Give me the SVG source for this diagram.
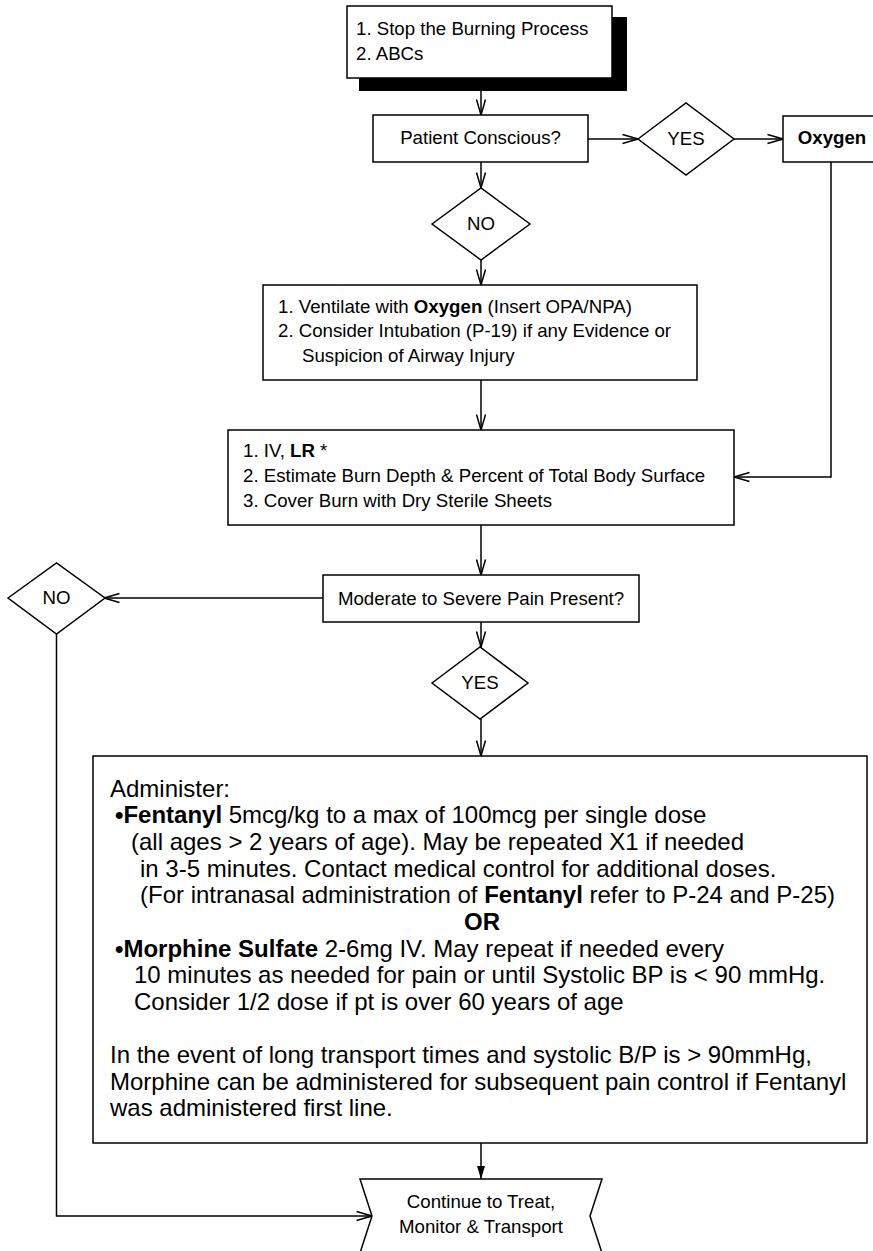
<svg xmlns="http://www.w3.org/2000/svg" width="873" height="1251" viewBox="0 0 873 1251">
<style>
.box{fill:#fff;stroke:#000;stroke-width:1.5}
.ln{fill:none;stroke:#000;stroke-width:1.5}
text{font-family:"Liberation Sans",Arial,Helvetica,sans-serif;font-size:18.67px;fill:#000}
.big{font-size:24px}
.b{font-weight:bold}
.c{text-anchor:middle}
</style>
<defs>
<marker id="open" markerUnits="userSpaceOnUse" markerWidth="18" markerHeight="12" viewBox="0 0 18 12" refX="16.5" refY="6" orient="auto">
<path d="M1,1.5 L16.5,6 L1,10.5" fill="none" stroke="#000" stroke-width="1.5"/>
</marker>
<marker id="solid" markerUnits="userSpaceOnUse" markerWidth="14" markerHeight="10" viewBox="0 0 14 10" refX="13" refY="5" orient="auto">
<path d="M0,1 L13,5 L0,9 z" fill="#000"/>
</marker>
</defs>
<rect width="873" height="1251" fill="#fff"/>
<g id="connectors" class="ln">
<path d="M481,91 V115" marker-end="url(#open)"/>
<path d="M588,139 H638" marker-end="url(#open)"/>
<path d="M734,139 H783" marker-end="url(#open)"/>
<path d="M831,162 V477 H734" marker-end="url(#open)"/>
<path d="M481,162 V188" marker-end="url(#open)"/>
<path d="M481,260 V285" marker-end="url(#open)"/>
<path d="M481,380 V430" marker-end="url(#open)"/>
<path d="M481,525 V575" marker-end="url(#open)"/>
<path d="M323,598 H104" marker-end="url(#open)"/>
<path d="M481,622 V647" marker-end="url(#open)"/>
<path d="M481,719 V756" marker-end="url(#open)"/>
<path d="M481,1143 V1179" marker-end="url(#solid)"/>
<path d="M56.5,634 V1216 H372" marker-end="url(#open)"/>
</g>
<g id="start">
<rect x="359" y="17" width="268" height="74" fill="#000"/>
<rect class="box" x="347" y="6" width="265" height="72"/>
<text x="356" y="35">1. Stop the Burning Process</text>
<text x="356" y="60">2. ABCs</text>
</g>
<g id="conscious">
<rect class="box" x="373" y="115" width="215" height="47"/>
<text class="c" x="480.5" y="144">Patient Conscious?</text>
</g>
<g id="yes1">
<polygon class="box" points="638,139 686,103 734,139 686,175"/>
<text class="c" x="686" y="145">YES</text>
</g>
<g id="oxygen">
<rect class="box" x="783" y="116" width="102" height="46"/>
<text class="c b" x="832" y="144">Oxygen</text>
</g>
<g id="no1">
<polygon class="box" points="432,224 481,188 530,224 481,260"/>
<text class="c" x="481" y="230">NO</text>
</g>
<g id="ventilate">
<rect class="box" x="263" y="285" width="434" height="95"/>
<text x="278" y="313">1. Ventilate with <tspan class="b">Oxygen</tspan> (Insert OPA/NPA)</text>
<text x="278" y="337">2. Consider Intubation (P-19) if any Evidence or</text>
<text x="302" y="362">Suspicion of Airway Injury</text>
</g>
<g id="iv">
<rect class="box" x="228" y="430" width="506" height="95"/>
<text x="243" y="457">1. IV, <tspan class="b">LR</tspan> *</text>
<text x="243" y="482">2. Estimate Burn Depth &amp; Percent of Total Body Surface</text>
<text x="243" y="507">3. Cover Burn with Dry Sterile Sheets</text>
</g>
<g id="pain">
<rect class="box" x="323" y="575" width="316" height="47"/>
<text class="c" x="481" y="605">Moderate to Severe Pain Present?</text>
</g>
<g id="no2">
<polygon class="box" points="8,598 56.5,563 105,598 56.5,634"/>
<text class="c" x="56.5" y="604">NO</text>
</g>
<g id="yes2">
<polygon class="box" points="432,683 480,647 528,683 480,719"/>
<text class="c" x="480" y="689">YES</text>
</g>
<g id="administer">
<rect class="box" x="93" y="756" width="774" height="387"/>
<text class="big" x="110" y="797">Administer:</text>
<text class="big" x="115" y="823"><tspan class="b">•Fentanyl</tspan> 5mcg/kg to a max of 100mcg per single dose</text>
<text class="big" x="131" y="850">(all ages &gt; 2 years of age). May be repeated X1 if needed</text>
<text class="big" x="140" y="877">in 3-5 minutes. Contact medical control for additional doses.</text>
<text class="big" x="140" y="903">(For intranasal administration of <tspan class="b">Fentanyl</tspan> refer to P-24 and P-25)</text>
<text class="big b c" x="482" y="930">OR</text>
<text class="big" x="115" y="957"><tspan class="b">•Morphine Sulfate</tspan> 2-6mg IV. May repeat if needed every</text>
<text class="big" x="134" y="983">10 minutes as needed for pain or until Systolic BP is &lt; 90 mmHg.</text>
<text class="big" x="134" y="1010">Consider 1/2 dose if pt is over 60 years of age</text>
<text class="big" x="110" y="1063">In the event of long transport times and systolic B/P is &gt; 90mmHg,</text>
<text class="big" x="110" y="1090">Morphine can be administered for subsequent pain control if Fentanyl</text>
<text class="big" x="110" y="1116">was administered first line.</text>
</g>
<g id="continue">
<polygon class="box" points="360,1179 602,1179 590,1216 602,1253 360,1253 372,1216"/>
<text class="c" x="481" y="1208">Continue to Treat,</text>
<text class="c" x="481" y="1233">Monitor &amp; Transport</text>
</g>
</svg>
